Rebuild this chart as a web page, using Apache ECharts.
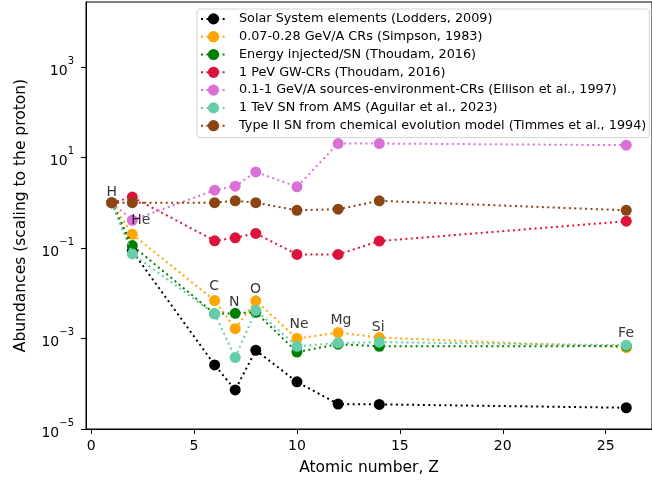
<!DOCTYPE html>
<html><head><meta charset="utf-8">
<script src="https://cdn.jsdelivr.net/npm/echarts@6/dist/echarts.min.js"></script>
<style>html,body{margin:0;padding:0;background:#fff}#c{width:652px;height:483px}</style>
</head><body><div id="c"></div>
<script>
// ---- data ----
const Z = [1, 2, 6, 7, 8, 10, 12, 14, 26];
const solar    = [1, 0.085, 2.6e-4, 7.3e-5, 5.5e-4, 1.1e-4, 3.55e-5, 3.5e-5, 2.95e-5];
const simpson  = [1, 0.2, 6.9e-3, 1.65e-3, 6.8e-3, 1.0e-3, 1.35e-3, 1.05e-3, 6.3e-4];
const thoudamE = [1, 0.113, 3.5e-3, 3.6e-3, 3.8e-3, 5.0e-4, 7.5e-4, 6.7e-4, 6.8e-4];
const thoudamGW= [1, 1.33, 0.144, 0.168, 0.21, 0.072, 0.072, 0.142, 0.39];
const ellison  = [1, 0.41, 1.89, 2.32, 4.8, 2.24, 20.3, 20.3, 18.7];
const ams      = [1, 0.074, 3.5e-3, 3.8e-4, 4.2e-3, 6.7e-4, 8.0e-4, 8.3e-4, 7.1e-4];
const timmes   = [1, 1.0, 1.0, 1.1, 1.0, 0.68, 0.72, 1.1, 0.68];
const seriesNames = [
  'Solar System elements (Lodders, 2009)',
  '0.07-0.28 GeV/A CRs (Simpson, 1983)',
  'Energy injected/SN (Thoudam, 2016)',
  '1 PeV GW-CRs (Thoudam, 2016)',
  '0.1-1 GeV/A sources-environment-CRs (Ellison et al., 1997)',
  '1 TeV SN from AMS (Aguilar et al., 2023)',
  'Type II SN from chemical evolution model (Timmes et al., 1994)'
];
const elementNames = ['H', 'He', 'C', 'N', 'O', 'Ne', 'Mg', 'Si', 'Fe'];
const labelX = [1.0, 2.41, 5.98, 6.95, 7.99, 10.1, 12.14, 13.95, 25.99];
const labelY = [1.32, 0.319, 0.0108, 4.76e-3, 9.6e-3, 1.61e-3, 1.98e-3, 1.34e-3, 1.0e-3];
const xTicks = [0, 5, 10, 15, 20, 25];
const yTicks = [1e-5, 1e-3, 1e-1, 1e1, 1e3];

// ---- styles ----
const colors = ['#000000', '#FFA500', '#008000', '#DC143C', '#DA70D6', '#66CDAA', '#8B4513'];
const allData = [solar, simpson, thoudamE, thoudamGW, ellison, ams, timmes];
const FONT = 'DejaVu Sans';

const series = allData.map((arr, i) => ({
  name: seriesNames[i],
  type: 'line',
  data: Z.map((z, k) => [z, arr[k]]),
  symbol: 'circle',
  symbolSize: 11,
  itemStyle: {color: colors[i]},
  lineStyle: {color: colors[i], width: 2, type: [2, 3.4]},
  z: 2 + i * 0.01
}));
series.push({
  type: 'scatter',
  data: labelX.map((x, k) => [x, labelY[k], elementNames[k]]),
  symbolSize: 0,
  silent: true,
  z: 5,
  label: {
    show: true, position: [0, 0], align: 'center', verticalAlign: 'bottom',
    offset: [0, 3],
    formatter: p => p.value[2],
    fontFamily: FONT, fontSize: 14, color: '#000', lineHeight: 16
  }
});

const chart = echarts.init(document.getElementById('c'), null, {renderer: 'canvas'});
chart.setOption({
  animation: false,
  backgroundColor: '#fff',
  grid: {left: 86, top: 2, bottom: 54, right: -6, show: true, borderColor: '#000', borderWidth: 1, backgroundColor: 'transparent'},
  legend: {
    data: seriesNames,
    orient: 'vertical',
    left: 197, top: 9,
    itemWidth: 25, itemHeight: 14, itemGap: 0,
    padding: [1, 3, 3, 3],
    backgroundColor: 'rgba(255,255,255,0.8)',
    borderColor: '#d3d3d3', borderWidth: 1, borderRadius: 3,
    textStyle: {fontFamily: FONT, fontSize: 12.8, lineHeight: 17.8, color: '#000', padding: [0, 0, 0, 8]}
  },
  xAxis: {
    type: 'value', min: -0.25, max: 27.25,
    name: 'Atomic number, Z', nameLocation: 'middle', nameGap: 31,
    nameTextStyle: {fontFamily: FONT, fontSize: 15.5, color: '#000'},
    axisLine: {show: true, onZero: false, lineStyle: {color: '#000', width: 1}},
    axisTick: {show: true, length: 5, customValues: xTicks, lineStyle: {color: '#000'}},
    axisLabel: {customValues: xTicks, margin: 10, fontFamily: FONT, fontSize: 14, color: '#000'},
    splitLine: {show: false}
  },
  yAxis: {
    type: 'log', logBase: 10, min: 1e-5, max: Math.pow(10, 4.435),
    name: 'Abundances (scaling to the proton)', nameLocation: 'middle', nameGap: 57,
    nameTextStyle: {fontFamily: FONT, fontSize: 15.5, color: '#000'},
    axisLine: {show: true, onZero: false, lineStyle: {color: '#000', width: 1}},
    axisTick: {show: true, length: 5, customValues: yTicks, lineStyle: {color: '#000'}},
    axisLabel: {
      customValues: yTicks, margin: 12,
      formatter: v => {
        const e = Math.round(Math.log10(v));
        const s = (e < 0 ? '−' : '') + Math.abs(e);
        return '{a|10}{b|' + s + '}';
      },
      rich: {
        a: {fontFamily: FONT, fontSize: 14, color: '#000', lineHeight: 22, verticalAlign: 'bottom'},
        b: {fontFamily: FONT, fontSize: 10, color: '#000', lineHeight: 22, verticalAlign: 'top'}
      }
    },
    splitLine: {show: false}
  },
  series: series
});
</script></body></html>
